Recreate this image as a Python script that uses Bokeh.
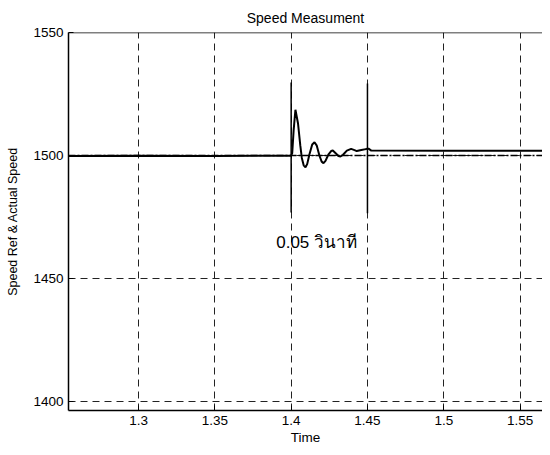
from bokeh.plotting import figure
from bokeh.models import Span, Range1d, FixedTicker
from bokeh.core.properties import value
from bokeh.embed import file_html
from bokeh.resources import INLINE

# Reference speed (dash-dot)
ref_t = [1.2541, 1.5647]
ref_speed = [1500.0, 1500.0]

# Actual speed (solid)
act_t = [1.2541, 1.3000, 1.3500, 1.4000, 1.4007, 1.4016, 1.4028, 1.4045, 1.4060, 1.4070,
         1.4082, 1.4094, 1.4105, 1.4120, 1.4138, 1.4153, 1.4168, 1.4185, 1.4200, 1.4212,
         1.4225, 1.4245, 1.4262, 1.4273, 1.4290, 1.4310, 1.4323, 1.4340, 1.4365, 1.4393,
         1.4415, 1.4430, 1.4460, 1.4490, 1.4507, 1.4525, 1.5000, 1.5647]
act_speed = [1499.8, 1499.9, 1499.8, 1499.9, 1501.0, 1510.0, 1518.6, 1513.0, 1504.0, 1499.0,
             1496.0, 1495.2, 1496.5, 1500.5, 1504.5, 1505.4, 1504.0, 1500.0, 1497.5, 1496.9,
             1497.8, 1500.5, 1501.8, 1502.0, 1501.0, 1499.8, 1499.6, 1500.3, 1502.0, 1502.7,
             1502.2, 1501.8, 1502.2, 1502.6, 1502.8, 1502.0, 1501.9, 1501.9]

# Marker lines for the 0.05 s interval
mark_t = [1.40, 1.45]
mark_lo = [1476.8, 1476.5]
mark_hi = [1529.7, 1529.3]

note_t = [1.3902]
note_y = [1464.6]
note_text = ["0.05 วินาที"]

x_ticks = [1.3, 1.35, 1.4, 1.45, 1.5, 1.55]
y_ticks = [1400, 1450, 1500, 1550]

FONT = "Liberation Sans"

p = figure(width=542, height=447, output_backend="svg", toolbar_location=None,
           x_range=Range1d(1.2541, 1.5647), y_range=Range1d(1396.34, 1550),
           min_border_left=68, min_border_right=0, min_border_top=32, min_border_bottom=37)

p.title.text = "Speed Measument"
p.title.align = "center"
p.title.text_font = FONT
p.title.text_font_size = "14px"
p.title.text_font_style = "normal"
p.title.text_color = "black"
p.title.standoff = 14

p.outline_line_color = None
p.background_fill_color = "white"
p.border_fill_color = "white"

for ax in (p.xaxis[0], p.yaxis[0]):
    ax.axis_line_color = "black"
    ax.axis_line_width = 1.5
    ax.major_tick_in = 5
    ax.major_tick_out = 0
    ax.major_tick_line_color = "black"
    ax.minor_tick_line_color = None
    ax.major_label_text_font = FONT
    ax.major_label_text_font_size = "13.5px"
    ax.major_label_text_color = "black"
    ax.axis_label_text_font = FONT
    ax.axis_label_text_font_size = "13.5px"
    ax.axis_label_text_font_style = "normal"
    ax.axis_label_text_color = "black"

p.yaxis[0].axis_label_text_font_size = "12.5px"
p.xaxis[0].ticker = FixedTicker(ticks=x_ticks)
p.yaxis[0].ticker = FixedTicker(ticks=y_ticks)
p.xaxis[0].axis_label = "Time"
p.yaxis[0].axis_label = "Speed Ref & Actual Speed"
p.xaxis[0].major_label_standoff = 5
p.xaxis[0].axis_label_standoff = 2
p.yaxis[0].major_label_standoff = 5
p.yaxis[0].axis_label_standoff = 10

p.xgrid.ticker = FixedTicker(ticks=x_ticks)
p.ygrid.ticker = FixedTicker(ticks=y_ticks)
for g in (p.xgrid[0], p.ygrid[0]):
    g.grid_line_color = "#222222"
    g.grid_line_dash = "7 5"
    g.grid_line_width = 1
    g.grid_line_alpha = 1.0

# top frame line
p.add_layout(Span(location=1550, dimension="width", line_color="black", line_width=1.5))

p.line(act_t, act_speed, line_color="black", line_width=2)
p.line(ref_t, ref_speed, line_color="black", line_width=1.3, line_dash="7 2 2 2")
p.segment(x0=mark_t, y0=mark_lo, x1=mark_t, y1=mark_hi, line_color="black", line_width=1.5)
p.text(x=note_t, y=note_y, text=note_text, text_font=value(FONT), text_font_size="17px",
       text_baseline="middle", text_align="left", text_color="black")

open("out.html", "w").write(file_html(p, INLINE))
